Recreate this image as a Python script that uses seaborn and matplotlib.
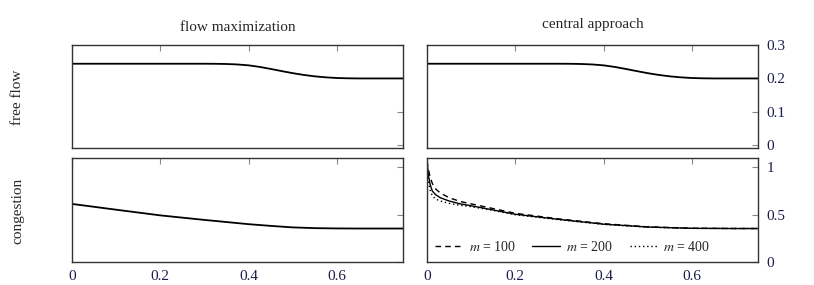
import numpy as np
import pandas as pd
import matplotlib
matplotlib.use("Agg")
import matplotlib.pyplot as plt
import seaborn as sns

# Datos
x_ff = [0, 0.1, 0.2, 0.3, 0.325, 0.35, 0.375, 0.4, 0.425, 0.45, 0.475, 0.5, 0.525, 0.55, 0.575, 0.6, 0.625, 0.65, 0.7, 0.75]
free_flow = [0.244, 0.244, 0.244, 0.244, 0.2438, 0.2432, 0.2418, 0.2392, 0.2345, 0.2285, 0.222, 0.2158, 0.2105, 0.2063, 0.2033, 0.2013, 0.2004, 0.2, 0.2, 0.2]

x_cg = [0, 0.1, 0.2, 0.3, 0.4, 0.45, 0.5, 0.55, 0.6, 0.65, 0.7, 0.75]
cong_flowmax = [0.614, 0.553, 0.493, 0.445, 0.40, 0.382, 0.366, 0.358, 0.355, 0.354, 0.354, 0.354]

x_ca = [0, 0.003, 0.007, 0.012, 0.02, 0.03, 0.05, 0.075, 0.1, 0.15, 0.2, 0.3, 0.4, 0.5, 0.6, 0.7, 0.75]
cong_m100 = [1.07, 0.98, 0.90, 0.83, 0.77, 0.73, 0.68, 0.64, 0.615, 0.565, 0.515, 0.455, 0.405, 0.372, 0.357, 0.354, 0.354]
cong_m200 = [1.07, 0.92, 0.82, 0.75, 0.71, 0.68, 0.645, 0.615, 0.595, 0.55, 0.505, 0.45, 0.40, 0.37, 0.356, 0.354, 0.354]
cong_m400 = [1.07, 0.85, 0.76, 0.70, 0.665, 0.645, 0.62, 0.60, 0.585, 0.545, 0.50, 0.447, 0.398, 0.368, 0.356, 0.354, 0.354]
m_labels = ["$m$ = 100", "$m$ = 200", "$m$ = 400"]

col_titles = ["flow maximization", "central approach"]
row_labels = ["free flow", "congestion"]

sns.set_style("white")
plt.rcParams["font.family"] = ["Liberation Serif", "DejaVu Serif"]
plt.rcParams["mathtext.fontset"] = "stix"

fig = plt.figure(figsize=(8.14, 2.85), dpi=100)
w, h1, h2 = 0.4066, 0.3614, 0.365
ax_tl = fig.add_axes([0.0885, 0.4807, w, h1])
ax_tr = fig.add_axes([0.5246, 0.4807, w, h1])
ax_bl = fig.add_axes([0.0885, 0.0807, w, h2])
ax_br = fig.add_axes([0.5246, 0.0807, w, h2])

tick_col = "#1c1c4c"

# Fila superior: flujo libre
for ax in (ax_tl, ax_tr):
    sns.lineplot(x=x_ff, y=free_flow, ax=ax, color="black", lw=1.3)
    ax.set_ylim(-0.008, 0.3)
    ax.set_yticks([0, 0.1, 0.2, 0.3])

# Fila inferior: congestión
sns.lineplot(x=x_cg, y=cong_flowmax, ax=ax_bl, color="black", lw=1.3)

df_ca = pd.DataFrame({
    "x": x_ca * 3,
    "y": cong_m100 + cong_m200 + cong_m400,
    "m": [m_labels[0]] * len(x_ca) + [m_labels[1]] * len(x_ca) + [m_labels[2]] * len(x_ca),
})
sns.lineplot(data=df_ca, x="x", y="y", style="m", ax=ax_br, color="black", lw=1.0,
             dashes={m_labels[0]: (4, 3), m_labels[1]: "", m_labels[2]: (1, 2)})
ax_br.legend(loc="lower center", bbox_to_anchor=(0.44, -0.04), ncol=3, frameon=False,
             fontsize=10, handlelength=2.0, columnspacing=1.2, handletextpad=0.4)

for ax in (ax_bl, ax_br):
    ax.set_ylim(0, 1.1)
    ax.set_yticks([0, 0.5, 1])

for ax in (ax_tl, ax_tr, ax_bl, ax_br):
    ax.set_xlim(0, 0.75)
    ax.set_xticks([0, 0.2, 0.4, 0.6])
    ax.set_xlabel("")
    ax.set_ylabel("")
    ax.tick_params(direction="in", length=4, color="#888888", top=True, right=True,
                   labelsize=11, labelcolor=tick_col, pad=6)
    for s in ax.spines.values():
        s.set_color("#333333")
        s.set_linewidth(1.0)

for ax in (ax_tl, ax_tr):
    ax.tick_params(labelbottom=False)
for ax in (ax_tl, ax_bl):
    ax.tick_params(labelleft=False)
for ax in (ax_tr, ax_br):
    ax.tick_params(labelleft=False, labelright=True)
    ax.set_yticklabels(["0", "0.1", "0.2", "0.3"] if ax is ax_tr else ["0", "0.5", "1"])
ax_bl.set_xticklabels(["0", "0.2", "0.4", "0.6"])
ax_br.set_xticklabels(["0", "0.2", "0.4", "0.6"])

ax_tl.set_title(col_titles[0], fontsize=11, pad=10)
ax_tr.set_title(col_titles[1], fontsize=11, pad=12)
fig.text(0.022, 0.66, row_labels[0], rotation=90, ha="center", va="center", fontsize=11)
fig.text(0.022, 0.26, row_labels[1], rotation=90, ha="center", va="center", fontsize=11)

fig.savefig("out.png", dpi=100)
